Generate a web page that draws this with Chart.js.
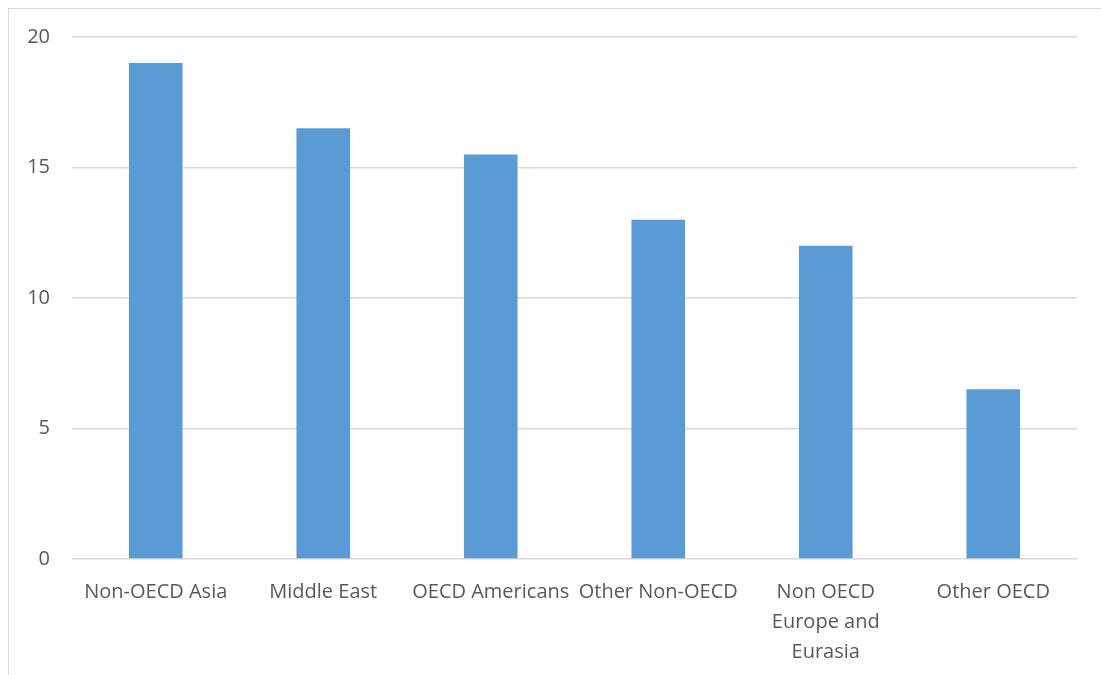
<!DOCTYPE html>
<html>
<head>
<meta charset="utf-8">
<script src="https://cdn.jsdelivr.net/npm/chart.js@4/dist/chart.umd.min.js"></script>
<style>
  html, body { margin: 0; padding: 0; background: #fff; }
  #wrap { position: relative; width: 1101px; height: 675px; }
  #frame { position: absolute; left: 8px; top: 8px; right: 0; bottom: 0; border-left: 1px solid #d9d9d9; border-top: 1px solid #d9d9d9; pointer-events: none; }
</style>
</head>
<body>
<div id="wrap">
  <canvas id="chart" width="1101" height="675"></canvas>
  <div id="frame"></div>
</div>
<script>
var categories = ['Non-OECD Asia', 'Middle East', 'OECD Americans', 'Other Non-OECD', ['Non OECD', 'Europe and', 'Eurasia'], 'Other OECD']
var values = [19, 16.5, 15.5, 13, 12, 6.5]
var yTicks = [0, 5, 10, 15, 20]

var textColor = '#595959'
var gridColor = '#d9d9d9'

new Chart(document.getElementById('chart'), {
  type: 'bar',
  data: {
    labels: categories,
    datasets: [{
      data: values,
      backgroundColor: '#5b9bd5',
      barPercentage: 0.32,
      categoryPercentage: 1
    }]
  },
  options: {
    responsive: false,
    animation: false,
    layout: { padding: { top: 37, right: 24, left: 0, bottom: 0 } },
    plugins: { legend: { display: false }, tooltip: { enabled: false } },
    scales: {
      x: {
        grid: { display: false },
        border: { display: false },
        ticks: {
          color: textColor,
          font: { family: 'Open Sans', size: 20, lineHeight: 1.5 },
          padding: 10,
          maxRotation: 0,
          minRotation: 0,
          autoSkip: false
        },
        afterFit: function (scale) { scale.height = 116 }
      },
      y: {
        min: 0,
        max: 20,
        afterBuildTicks: function (scale) { scale.ticks = yTicks.map(function (v) { return { value: v } }) },
        grid: { color: gridColor, lineWidth: 1.5, drawTicks: false },
        border: { display: false },
        ticks: {
          color: textColor,
          font: { family: 'Open Sans', size: 20 },
          padding: 22
        },
        afterFit: function (scale) { scale.width = 72 }
      }
    }
  }
})
</script>
</body>
</html>
